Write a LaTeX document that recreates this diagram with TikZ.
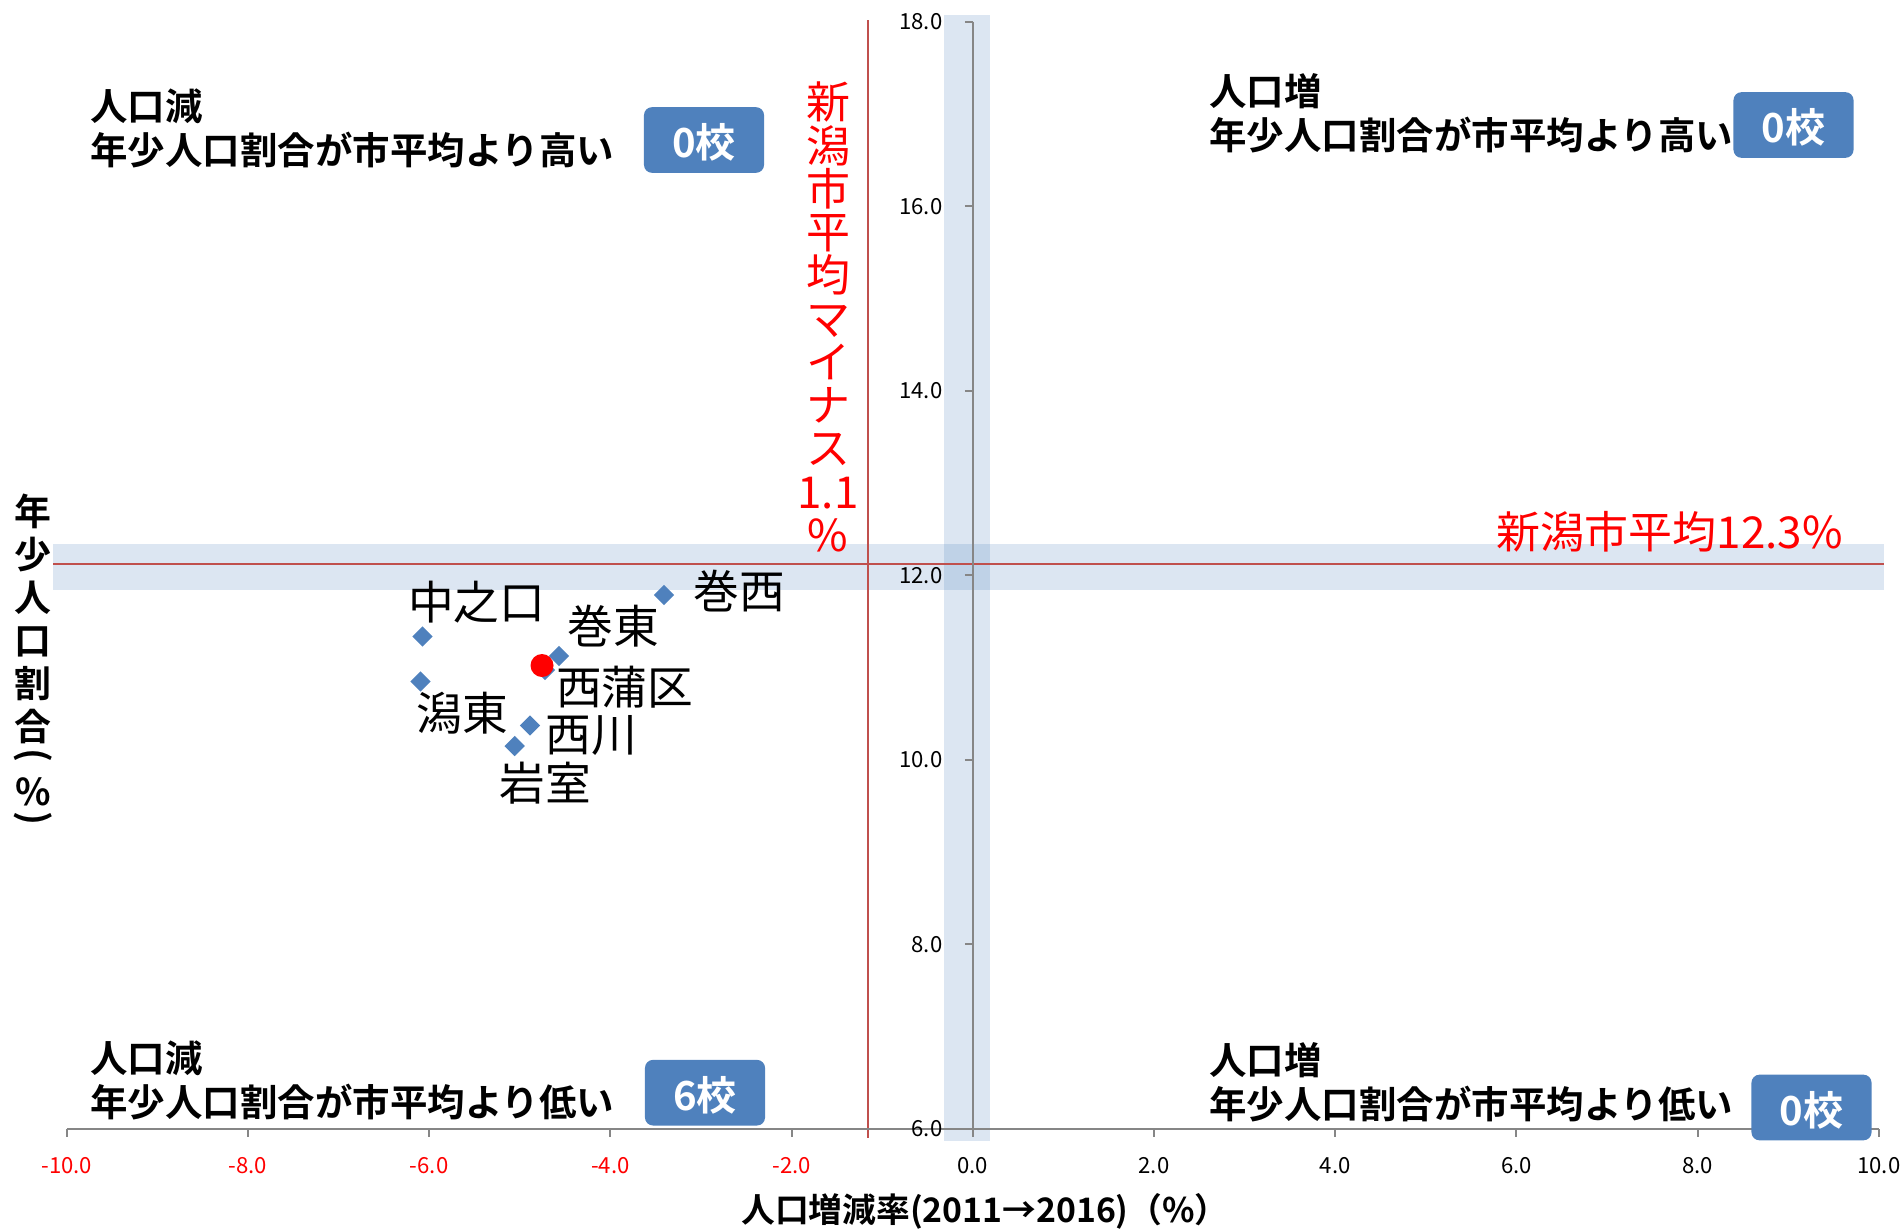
\documentclass[tikz,border=0pt]{standalone}
\usepackage{fontspec}
\setmainfont{Noto Sans CJK JP}[BoldFont={Noto Sans CJK JP Bold}]
\usetikzlibrary{shapes.geometric}
\definecolor{bandblue}{RGB}{79,129,189}
\definecolor{avgred}{RGB}{192,80,77}
\definecolor{axisgray}{RGB}{134,134,134}

\begin{document}
\begin{tikzpicture}[x=0.01cm,y=-0.01cm,
    band/.style={fill=bandblue,fill opacity=0.2},
    avgline/.style={avgred,line width=0.6pt},
    axisline/.style={axisgray,line width=0.6pt},
    school/.style={diamond,fill=bandblue,inner sep=0pt,minimum size=0.21cm},
    schoolname/.style={font=\fontsize{13}{13}\selectfont,inner sep=0pt},
    quadtext/.style={font=\bfseries\fontsize{10.65}{12.5}\selectfont,align=left,anchor=west,inner sep=0pt},
    countbox/.style={fill=bandblue,rounded corners=0.08cm,minimum width=1.2cm,minimum height=0.6cm,
      text=white,text height=1.1em,text depth=0.1em,font=\bfseries\fontsize{11.4}{11.4}\selectfont},
    ticklabel/.style={font=\fontsize{6.3}{6.3}\selectfont,inner sep=0pt},
    ytitle/.style={font=\bfseries\fontsize{10.5}{12.23}\selectfont,inner sep=0pt,align=center}]
    \useasboundingbox (0,0) rectangle (1903,1230);

    % bands and city averages
    \fill[band] (53.4,544) rectangle (1883.7,590);
    \fill[band] (944,15.3) rectangle (990,1141);
    \draw[avgline] (53.4,563.7) -- (1883.7,563.7);
    \draw[avgline] (867.7,20) -- (867.7,1138);

    % axes
    \draw[axisline] (66.8,1129) -- (1879,1129);
    \draw[axisline] (972.8,21.7) -- (972.8,1129);
    \foreach \v in {-10,-8,...,10}
      \draw[axisline] (972.8+90.6*\v,1129) -- ++(0,8);
    \foreach \v in {-10,-8,...,-2}
      \node[ticklabel,text=red] at (972.8+90.6*\v,1166) {\v.0};
    \foreach \v in {0,2,...,10}
      \node[ticklabel] at (972.8+90.6*\v,1166) {\v.0};
    \foreach \v in {6,8,...,18}{
      \draw[axisline] (964.8,1128.7-92.25*\v+553.5) -- ++(8,0);
      \node[ticklabel,anchor=east] at (943,1128.7-92.25*\v+553.5) {\v.0};
    }

    \node[font=\bfseries\fontsize{9.6}{9.6}\selectfont] (xtitle) at (985,1211.7) {人口増減率(2011→2016)（\%）};
    \node[ytitle] (ytitle) at (33,619.2) {年\\少\\人\\口\\割\\合};
    \node[ytitle,rotate=-90] (ytitle-lp) at (33,755) {(};
    \node[ytitle] (ytitle-pct) at (33,791.7) {\%};
    \node[ytitle,rotate=-90] (ytitle-rp) at (33,818) {)};

    % schools
    \node[school] (makinishi) at (664,595) {};
    \node[school] (nakanokuchi) at (422.5,636.5) {};
    \node[school] (makihigashi) at (559,656) {};
    \node[school] (nishikan) at (545,670) {};
    \node[circle,fill=red,inner sep=0pt,minimum size=0.23cm] (ward) at (542,665.5) {};
    \node[school] (katahigashi) at (420.5,681.5) {};
    \node[school] (nishikawa) at (530,725.5) {};
    \node[school] (iwamuro) at (514.7,746) {};

    \node[schoolname] (makinishi-l) at (739,591.5) {巻西};
    \node[schoolname] (nakanokuchi-l) at (476.7,601.7) {中之口};
    \node[schoolname] (makihigashi-l) at (613.5,625.8) {巻東};
    \node[schoolname] (nishikan-l) at (624.8,686.7) {西蒲区};
    \node[schoolname] (katahigashi-l) at (462.7,713.3) {潟東};
    \node[schoolname] (nishikawa-l) at (591.7,735.8) {西川};
    \node[schoolname] (iwamuro-l) at (545.3,783.3) {岩室};

    % city average labels
    \node[text=red,font=\fontsize{12.5}{12.5}\selectfont] (avgy) at (1669.8,531.6) {新潟市平均12.3\%};
    \node[text=red,font=\fontsize{12.5}{12.3}\selectfont,align=center] (avgx) at (828,317)
      {新\\潟\\市\\平\\均\\マ\\イ\\ナ\\ス\\1.1\\\%};

    % quadrants
    \node[quadtext] (tl) at (89.8,128.7) {人口減\\年少人口割合が市平均より高い};
    \node[quadtext] (tr) at (1208.8,112.9) {人口増\\年少人口割合が市平均より高い};
    \node[quadtext] (bl) at (89.8,1080.8) {人口減\\年少人口割合が市平均より低い};
    \node[quadtext] (br) at (1208.8,1082) {人口増\\年少人口割合が市平均より低い};
    \node[countbox] (tl-n) at (704,140) {0校};
    \node[countbox] (tr-n) at (1793.5,125) {0校};
    \node[countbox] (bl-n) at (705,1092.7) {6校};
    \node[countbox] (br-n) at (1811.5,1107.5) {0校};
\end{tikzpicture}
\end{document}
